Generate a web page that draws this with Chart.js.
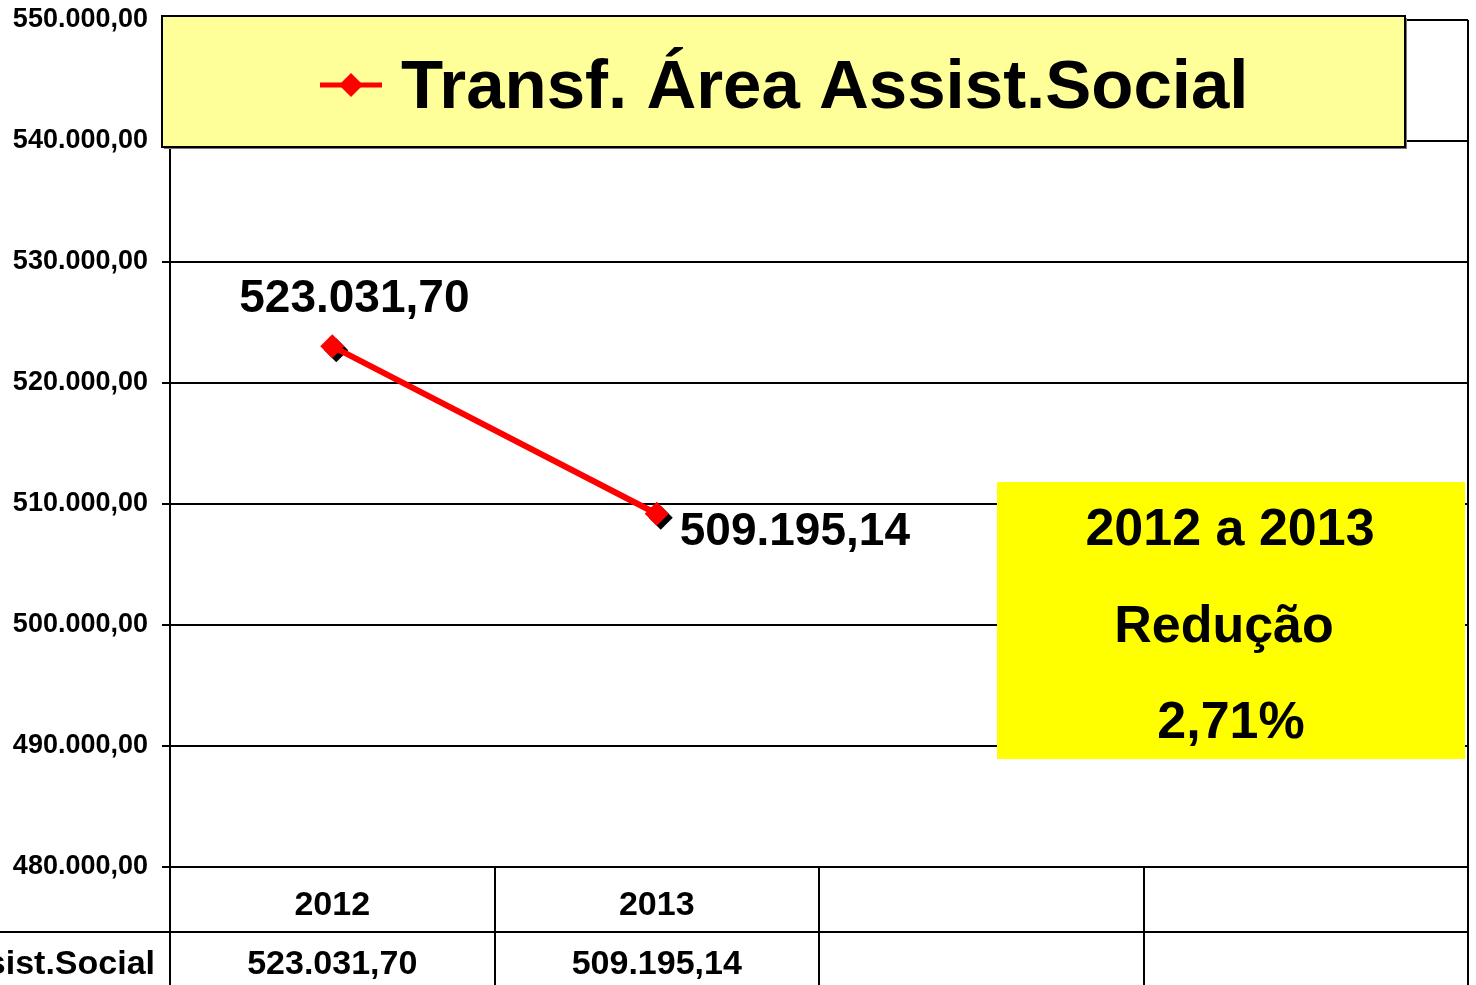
<!DOCTYPE html>
<html>
<head>
<meta charset="utf-8">
<script src="https://cdn.jsdelivr.net/npm/chart.js@4"></script>
<style>
body { margin: 0; background: #fff; }
canvas { display: block; }
</style>
</head>
<body>
<canvas id="chart" width="1476" height="985"></canvas>
<script>
const categories = ["2012", "2013", "", ""];
const seriesName = "Transf. Área Assist.Social";
const seriesValues = [523031.70, 509195.14, null, null];
const yMin = 480000;
const yMax = 550000;
const yStep = 10000;
const noteLines = ["2012 a 2013", "Redução", "2,71%"];

const FONT = '"Liberation Sans", Arial, sans-serif';

// 523031.7 -> "523.031,70"
function fmt(v) {
    const parts = v.toFixed(2).split(".");
    const int = parts[0].replace(/\B(?=(\d{3})+(?!\d))/g, ".");
    return int + "," + parts[1];
}

function diamond(ctx, x, y, r) {
    ctx.beginPath();
    ctx.moveTo(x, y - r);
    ctx.lineTo(x + r, y);
    ctx.lineTo(x, y + r);
    ctx.lineTo(x - r, y);
    ctx.closePath();
    ctx.fill();
}

// where each point label sits relative to its point
const labelOffsets = [
    {dx: -93, dy: -34},
    {dx: 23, dy: 31},
];

const extras = {
    id: "extras",
    beforeDatasetsDraw(chart) {
        // black shadow under the markers
        const ctx = chart.ctx;
        ctx.save();
        ctx.fillStyle = "#000";
        chart.getDatasetMeta(0).data.forEach((pt, i) => {
            if (seriesValues[i] == null) return;
            diamond(ctx, pt.x + 4, pt.y + 4, 12);
        });
        ctx.restore();
    },
    afterDatasetsDraw(chart) {
        const ctx = chart.ctx;
        ctx.save();
        ctx.fillStyle = "#000";
        ctx.font = "bold 46px " + FONT;
        ctx.textAlign = "left";
        ctx.textBaseline = "alphabetic";
        chart.getDatasetMeta(0).data.forEach((pt, i) => {
            if (seriesValues[i] == null) return;
            const o = labelOffsets[i];
            ctx.fillText(fmt(seriesValues[i]), pt.x + o.dx, pt.y + o.dy);
        });
        ctx.restore();
    },
    afterDraw(chart) {
        const ctx = chart.ctx;
        const area = chart.chartArea;
        const xs = chart.scales.x;
        const rowY = area.bottom + 65;
        ctx.save();

        // right border + data table lines
        ctx.strokeStyle = "#000";
        ctx.lineWidth = 2;
        ctx.beginPath();
        ctx.moveTo(area.right, area.top);
        ctx.lineTo(area.right, chart.height);
        ctx.moveTo(0, rowY);
        ctx.lineTo(area.right, rowY);
        ctx.stroke();

        // values row of the table
        ctx.fillStyle = "#000";
        ctx.font = "bold 34px " + FONT;
        ctx.textBaseline = "middle";
        ctx.textAlign = "center";
        seriesValues.forEach((v, i) => {
            if (v == null) return;
            ctx.fillText(fmt(v), xs.getPixelForValue(i), rowY + 33);
        });
        ctx.textAlign = "right";
        ctx.fillText(seriesName, area.left - 15, rowY + 33);

        // legend box
        const lx = area.left - 8, ly = area.top - 4, lw = 1243, lh = 131;
        ctx.fillStyle = "#777";
        ctx.fillRect(lx + 2, ly + 2, lw, lh);
        ctx.fillStyle = "#FFFF99";
        ctx.fillRect(lx, ly, lw, lh);
        ctx.strokeRect(lx, ly, lw, lh);
        ctx.strokeStyle = "#FF0000";
        ctx.lineWidth = 5;
        ctx.beginPath();
        ctx.moveTo(320, ly + 69);
        ctx.lineTo(382, ly + 69);
        ctx.stroke();
        ctx.fillStyle = "#FF0000";
        diamond(ctx, 351, ly + 69, 12);
        ctx.fillStyle = "#000";
        ctx.font = "bold 69px " + FONT;
        ctx.textAlign = "left";
        ctx.textBaseline = "alphabetic";
        ctx.fillText(seriesName, 401, ly + 92);

        // yellow note box
        ctx.fillStyle = "#FFFF00";
        ctx.fillRect(997, 482, 468, 277);
        ctx.fillStyle = "#000";
        ctx.font = "bold 52px " + FONT;
        ctx.textAlign = "center";
        ctx.fillText(noteLines[0], 1230, 545);
        ctx.fillText(noteLines[1], 1224, 642);
        ctx.fillText(noteLines[2], 1231, 738);

        ctx.restore();
    }
};

new Chart(document.getElementById("chart"), {
    type: "line",
    data: {
        labels: categories,
        datasets: [{
            label: seriesName,
            data: seriesValues,
            borderColor: "#FF0000",
            borderWidth: 6,
            pointStyle: "rectRot",
            pointRadius: 12,
            pointBackgroundColor: "#FF0000",
            pointBorderWidth: 0,
        }]
    },
    options: {
        responsive: false,
        animation: false,
        layout: {autoPadding: false, padding: {top: 20, right: 8, left: 0, bottom: 0}},
        plugins: {legend: {display: false}, tooltip: {enabled: false}},
        scales: {
            x: {
                offset: true,
                grid: {offset: true, drawOnChartArea: false, color: "#000", lineWidth: 2, tickLength: 118},
                border: {color: "#000", width: 2},
                ticks: {color: "#000", font: {family: FONT, size: 34, weight: "bold"}, padding: -100},
                afterFit(s) {
                    s.height = 118;
                    s.paddingLeft = 0;
                    s.paddingRight = 0;
                }
            },
            y: {
                min: yMin,
                max: yMax,
                ticks: {
                    stepSize: yStep,
                    color: "#000",
                    font: {family: FONT, size: 27, weight: "bold"},
                    padding: 14,
                    callback: v => fmt(v)
                },
                grid: {color: "#000", lineWidth: 2, tickLength: 8},
                border: {color: "#000", width: 2},
                afterFit(s) {
                    s.width = 170;
                    s.paddingTop = 0;
                    s.paddingBottom = 0;
                }
            }
        }
    },
    plugins: [extras]
});
</script>
</body>
</html>
